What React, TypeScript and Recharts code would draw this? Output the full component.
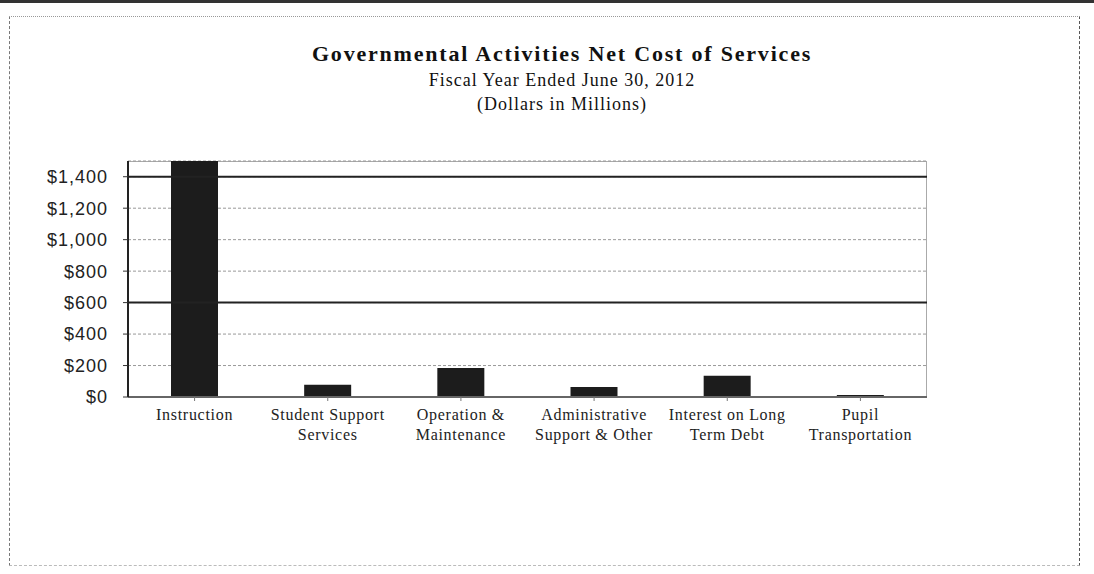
import React from "react";
import { BarChart, Bar, XAxis, YAxis, CartesianGrid, ReferenceLine } from "recharts";

const categories = [
  "Instruction",
  "Student Support Services",
  "Operation & Maintenance",
  "Administrative Support & Other",
  "Interest on Long Term Debt",
  "Pupil Transportation",
];
const tickLines: string[][] = [
  ["Instruction"],
  ["Student Support", "Services"],
  ["Operation &", "Maintenance"],
  ["Administrative", "Support & Other"],
  ["Interest on Long", "Term Debt"],
  ["Pupil", "Transportation"],
];
const netCost = [1500, 78, 185, 64, 135, 12];
const yTicks = [0, 200, 400, 600, 800, 1000, 1200, 1400];
const solidLines = [600, 1400];

const data = categories.map((name, i) => ({ name, cost: netCost[i], idx: i }));

const serif = '"Liberation Serif", "Times New Roman", serif';
const sans = '"Liberation Sans", Arial, sans-serif';

const money = (v: number) => "$" + v.toLocaleString("en-US");

function CategoryTick(props: any) {
  const { x, y, index } = props;
  const lines = tickLines[index] || [];
  return (
    <text
      x={x}
      y={y}
      textAnchor="middle"
      fontFamily={serif}
      fontSize={16}
      letterSpacing={0.7}
      fill="#222"
    >
      {lines.map((l, i) => (
        <tspan key={i} x={x} dy={i === 0 ? 17 : 20}>
          {l}
        </tspan>
      ))}
    </text>
  );
}

export default function App() {
  return (
    <div
      style={{
        position: "absolute",
        left: 0,
        top: 0,
        width: 1094,
        height: 574,
        background: "#fff",
        overflow: "hidden",
      }}
    >
      {/* scanned page frame */}
      <div
        style={{
          position: "absolute",
          left: 0,
          top: 0,
          width: 1094,
          height: 3,
          background: "#333",
        }}
      />
      <div
        style={{
          position: "absolute",
          left: 9,
          top: 16,
          width: 1069,
          height: 548,
          borderTop: "1px dotted #999",
          borderLeft: "1px dashed #777",
          borderRight: "1px dashed #555",
          borderBottom: "1px dashed #bbb",
        }}
      />
      <div
        style={{
          position: "absolute",
          left: 0,
          top: 40,
          width: 1094,
          textAlign: "center",
          fontFamily: serif,
          color: "#111",
        }}
      >
        <div
          style={{
            fontSize: 22,
            fontWeight: "bold",
            letterSpacing: 1.8,
            lineHeight: "28px",
            marginLeft: 30,
          }}
        >
          Governmental Activities Net Cost of Services
        </div>
        <div style={{ fontSize: 18, letterSpacing: 1, lineHeight: "24px", marginLeft: 30 }}>
          Fiscal Year Ended June 30, 2012
        </div>
        <div style={{ fontSize: 18, letterSpacing: 1, lineHeight: "24px", marginLeft: 30 }}>
          (Dollars in Millions)
        </div>
      </div>
      {/* plot area border */}
      <div
        style={{
          position: "absolute",
          left: 128,
          top: 161,
          width: 799,
          height: 236,
          border: "1px solid #aaa",
          boxSizing: "border-box",
        }}
      />
      <div style={{ position: "absolute", left: 0, top: 0 }}>
        <BarChart
          width={1094}
          height={574}
          data={data}
          margin={{ top: 161, right: 167, left: 8, bottom: 127 }}
          barCategoryGap={43}
        >
          <CartesianGrid vertical={false} stroke="#999" strokeDasharray="3 2" />
          <XAxis
            dataKey="name"
            height={50}
            interval={0}
            tick={<CategoryTick />}
            tickLine={{ stroke: "#777" }}
            tickSize={4}
            axisLine={{ stroke: "#666", strokeWidth: 2 }}
          />
          <YAxis
            width={120}
            domain={[0, 1500]}
            ticks={yTicks}
            allowDataOverflow
            tickFormatter={money}
            tick={{ fontFamily: sans, fontSize: 18, letterSpacing: 1, fill: "#222" }}
            tickLine={{ stroke: "#333" }}
            tickSize={5}
            tickMargin={15}
            axisLine={{ stroke: "#222", strokeWidth: 2 }}
          />
          {solidLines.map((v) => (
            <ReferenceLine key={v} y={v} stroke="#222" strokeWidth={2} />
          ))}
          <Bar dataKey="cost" fill="#1c1c1c" isAnimationActive={false} />
        </BarChart>
      </div>
    </div>
  );
}
